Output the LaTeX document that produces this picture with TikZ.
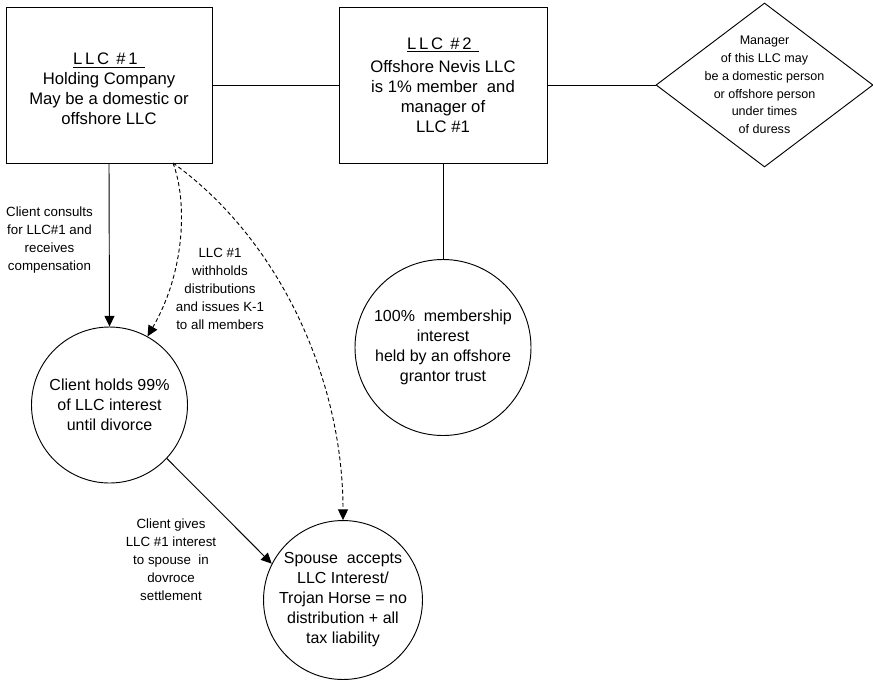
\documentclass[tikz,border=0pt]{standalone}
\usepackage{fontspec}
\setmainfont{Liberation Sans}
\usetikzlibrary{shapes.geometric,arrows.meta}
\newcommand{\ttlspaced}[1]{\underline{\addfontfeature{LetterSpace=16}#1\ }}
\begin{document}
\begin{tikzpicture}[x=0.75pt,y=-0.75pt,
  every path/.style={line width=0.7pt},
  boxnode/.style={draw,rectangle,minimum height=117pt,inner sep=0pt},
  boxtext/.style={align=center,inner sep=0pt,font=\fontsize{12.5}{15}\selectfont},
  circnode/.style={draw,circle,inner sep=0pt,align=center,
    font=\fontsize{12}{15}\selectfont},
  lbl/.style={align=center,inner sep=0pt,font=\fontsize{10}{13.5}\selectfont},
  dlbl/.style={align=center,inner sep=0pt,font=\fontsize{9.4}{13.3}\selectfont},
  arr/.style={-{Triangle[length=8pt,width=7.5pt]}},
  dsh/.style={dash pattern=on 3pt off 2pt}]
\useasboundingbox (0,0) rectangle (873,679);

% boxes
\node[boxnode,minimum width=154.5pt] (llc1) at (109,85) {};
\node[boxtext] (llc1t) at (109,89)
  {\ttlspaced{LLC \#1}\\Holding Company\\May be a domestic or\\offshore LLC};
\node[boxnode,minimum width=156pt] (llc2) at (443,85) {};
\node[boxtext] (llc2t) at (443,85)
  {\ttlspaced{LLC \#2}\\[2pt]Offshore Nevis LLC\\is 1\% member\ \ and\\manager of\\LLC \#1};

% diamond
\node[draw,diamond,inner sep=0pt,minimum width=162.75pt,minimum height=123pt] (dia) at (764.5,85) {};
\node[dlbl] (diatext) at (dia.center)
  {Manager\\of this LLC may\\be a domestic person\\or offshore person\\under times\\of duress};

% circles
\node[circnode,minimum size=117pt] (c1) at (109.5,405)
  {Client holds 99\%\\of LLC interest\\until divorce};
\node[circnode,minimum size=117pt] (c2) at (343,600)
  {Spouse\ \ accepts\\LLC Interest/\\Trojan Horse = no\\distribution + all\\tax liability};
\node[circnode,minimum size=132pt] (c3) at (443,347.5)
  {100\%\ \ membership\\interest\\held by an offshore\\grantor trust};

% labels
\node[lbl] (l1) at (49.5,240) {Client consults\\for LLC\#1 and\\receives\\compensation};
\node[lbl] (l2) at (220,288.5) {LLC \#1\\withholds\\distributions\\and issues K-1\\to all members};
\node[lbl] (l3) at (171,560) {Client gives\\LLC \#1 interest\\to spouse\ \ in\\dovroce\\settlement};

% connectors
\draw (llc1.east) -- (llc2.west);
\draw (llc2.east) -- (dia.west);
\draw (llc2.south) -- (c3.north);
\draw[arr] (llc1.south) -- (c1.north);
\coordinate (d0) at (173,163);
\draw[arr,dsh] (d0) .. controls (187,200) and (186,270) .. (c1.61);
\draw[arr,dsh] (d0) .. controls (280,240) and (343,380) .. (c2.north);
\draw[arr] (c1.-43) -- (c2.153);
\end{tikzpicture}
\end{document}
